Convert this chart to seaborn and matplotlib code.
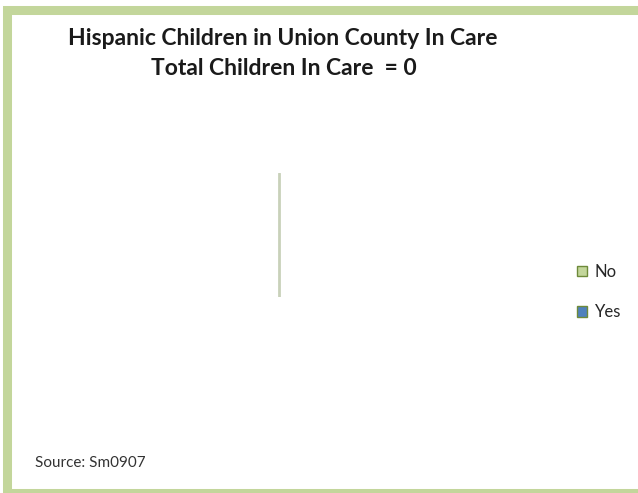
import matplotlib
matplotlib.use("Agg")
import matplotlib.pyplot as plt
import matplotlib.patches as mpatches
import seaborn as sns

categories = ["No", "Yes"]
counts = [0, 0]
colors = ["#c3d69b", "#4f81bd"]
title_line1 = "Hispanic Children in Union County In Care"
source_text = "Source: Sm0907"

sns.set_style("white")
plt.rcParams['font.family'] = ['Lato', 'DejaVu Sans']

W, H = 638, 493
fig = plt.figure(figsize=(W / 100, H / 100), dpi=100)
fig.patch.set_facecolor("white")

# border
border = mpatches.Rectangle((7 / W, 0), (643 - 7) / W, (493 - 9.5) / H,
                            transform=fig.transFigure, fill=False,
                            edgecolor="#c3d69b", linewidth=6.5, clip_on=False)
fig.patches.append(border)

total = sum(counts)
fig.text(283 / W, 1 - 38.5 / H, title_line1, ha="center", va="center",
         fontsize=16.5, fontweight="bold", color="#1a1a1a")
fig.text(284 / W, 1 - 68.5 / H, f"Total Children In Care  = {total}", ha="center",
         va="center", fontsize=16.5, fontweight="bold", color="#1a1a1a")
fig.text(35 / W, 1 - 463 / H, source_text, ha="left", va="center",
         fontsize=11, color="#333333")

# pie area: center (279,235), radius 62
r = 62
ax = fig.add_axes([(279 - r) / W, 1 - (235 + r) / H, 2 * r / W, 2 * r / H])
ax.set_xlim(-1, 1)
ax.set_ylim(-1, 1)
ax.axis("off")
if total == 0:
    # degenerate pie: zero-valued wedge edges collapse to a vertical diameter
    sns.lineplot(x=[0, 0], y=[-1, 1], ax=ax, color="#c9d1ba", linewidth=2,
                 sort=False, estimator=None)
else:
    ax.pie(counts, colors=colors, radius=1)

handles = [mpatches.Patch(facecolor=c, edgecolor="#6e8a3a", linewidth=1, label=l)
           for c, l in zip(colors, categories)]
fig.legend(handles=handles, loc="center left",
           bbox_to_anchor=(569 / W, 1 - 292 / H), frameon=False, borderpad=0,
           fontsize=12, handlelength=0.6, handleheight=0.6,
           handletextpad=0.45, labelspacing=1.45)

fig.savefig("out.png", dpi=100, facecolor="white")
